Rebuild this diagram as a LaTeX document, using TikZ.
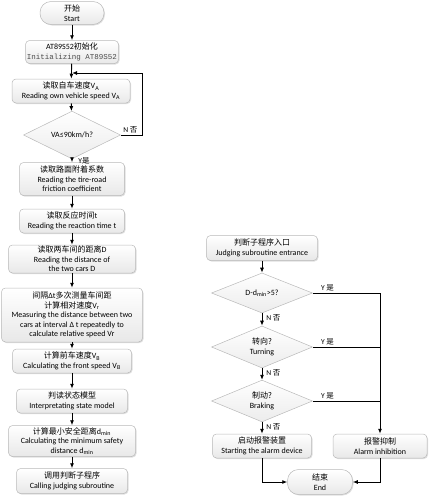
\documentclass[tikz,border=0pt]{standalone}
\usepackage{fontspec}
\setmainfont{Carlito}
\newfontfamily\cjk{Noto Sans CJK SC}
\newfontfamily\monof{Liberation Mono}
\usetikzlibrary{shapes.geometric,shadows,arrows.meta}
\begin{document}
\begin{tikzpicture}[x=1pt,y=-1pt,
  box/.style={draw=gray!55,line width=0.5pt,rounded corners=4pt,top color=white,bottom color=gray!18,
    drop shadow={opacity=0.25,shadow xshift=1pt,shadow yshift=-1pt},align=center,font=\fontsize{8}{9.5}\selectfont,inner sep=1pt},
  term/.style={box,rounded corners=11pt},
  dia/.style={draw=gray!55,line width=0.5pt,diamond,top color=white,bottom color=gray!15,align=center,inner sep=0pt,
    font=\fontsize{8}{9.5}\selectfont},
  arr/.style={-{Latex[length=5pt,width=4pt]},line width=0.9pt},
  ln/.style={line width=0.9pt},
  lab/.style={font=\fontsize{7.5}{8}\selectfont,inner sep=1pt}]
\useasboundingbox (0,0) rectangle (432,498);
% left column
\node[term,minimum width=64pt,minimum height=23pt] (start) at (72,13) {{\cjk 开始}\\Start};
\node[box,minimum width=93pt,minimum height=23pt] (init) at (72,52) {AT89S52{\cjk 初始化}\\{\monof\fontsize{7.5}{9}\selectfont\color{gray!60!black}Initializing AT89S52}};
\node[box,minimum width=118pt,minimum height=24pt] (speed) at (71,91) {{\cjk 读取自车速度}V$_\mathrm{A}$\\Reading own vehicle speed V$_\mathrm{A}$};
\node[dia,minimum width=97pt,minimum height=30pt] (d0) at (72,135) {VA≤90km/h?};
\node[box,minimum width=105pt,minimum height=33pt] (fric) at (72,179) {{\cjk 读取路面附着系数}\\Reading the tire-road\\friction coefficient};
\node[box,minimum width=105pt,minimum height=24pt] (react) at (72,221) {{\cjk 读取反应时间}t\\Reading the reaction time t};
\node[box,minimum width=127pt,minimum height=28pt] (dist) at (72,259) {{\cjk 读取两车间的距离}D\\Reading the distance of\\the two cars D};
\node[box,minimum width=141pt,minimum height=54pt] (meas) at (72,315) {{\cjk 间隔}Δt{\cjk 多次测量车间距}\\{\cjk 计算相对速度}V$_\mathrm{r}$\\Measuring the distance between two\\cars at interval Δ t repeatedly to\\calculate relative speed Vr};
\node[box,minimum width=119pt,minimum height=24pt] (front) at (72,361) {{\cjk 计算前车速度}V$_\mathrm{B}$\\Calculating the front speed V$_\mathrm{B}$};
\node[box,minimum width=111pt,minimum height=24pt] (interp) at (72,401) {{\cjk 判读状态模型}\\Interpretating state model};
\node[box,minimum width=127pt,minimum height=31pt] (minsafe) at (72,441) {{\cjk 计算最小安全距离}d$_\mathrm{min}$\\Calculating the minimum safety\\distance d$_\mathrm{min}$};
\node[box,minimum width=111pt,minimum height=25pt] (call) at (72,481) {{\cjk 调用判断子程序}\\Calling judging subroutine};
\coordinate (loop) at (72,73);
\coordinate (lc) at (142,135);
\draw[arr] (start) -- (init);
\draw[arr] (init) -- (speed);
\draw[arr] (speed) -- (d0);
\draw[arr] (d0) -- node[lab,right,pos=0.45,xshift=5pt]{Y{\cjk 是}} (fric);
\draw[arr] (fric) -- (react);
\draw[arr] (react) -- (dist);
\draw[arr] (dist) -- (meas);
\draw[arr] (meas) -- (front);
\draw[arr] (front) -- (interp);
\draw[arr] (interp) -- (minsafe);
\draw[arr] (minsafe) -- (call);
\draw[arr] (d0.east) -- node[lab,above,pos=0.45]{N {\cjk 否}} (lc) |- (loop);
% right column
\node[box,minimum width=111pt,minimum height=25pt] (entr) at (262,248) {{\cjk 判断子程序入口}\\Judging subroutine entrance};
\node[dia,minimum width=101pt,minimum height=37pt] (d1) at (262,293) {D-d$_\mathrm{min}$>5?};
\node[dia,minimum width=101pt,minimum height=38pt] (d2) at (262,347) {{\cjk 转向?}\\Turning};
\node[dia,minimum width=101pt,minimum height=38pt] (d3) at (262,401) {{\cjk 制动?}\\Braking};
\node[box,minimum width=99pt,minimum height=24pt] (alarm) at (262,446) {{\cjk 启动报警装置}\\Starting the alarm device};
\node[box,minimum width=94pt,minimum height=24pt] (inhib) at (380,446) {{\cjk 报警抑制}\\Alarm inhibition};
\node[term,minimum width=65pt,minimum height=25pt] (end) at (320,482) {{\cjk 结束}\\End};
\coordinate (r1) at (380,293);
\coordinate (r2) at (380,347);
\coordinate (r3) at (380,401);
\draw[arr] (entr) -- (d1);
\draw[arr] (d1) -- node[lab,right,pos=0.4,xshift=3pt]{N {\cjk 否}} (d2);
\draw[arr] (d2) -- node[lab,right,pos=0.4,xshift=3pt]{N {\cjk 否}} (d3);
\draw[arr] (d3) -- node[lab,right,pos=0.4,xshift=3pt]{N {\cjk 否}} (alarm);
\draw[ln] (d1.east) -- node[lab,above,pos=0.22]{Y {\cjk 是}} (r1);
\draw[ln] (d2.east) -- node[lab,above,pos=0.22]{Y {\cjk 是}} (r2);
\draw[ln] (d3.east) -- node[lab,above,pos=0.22]{Y {\cjk 是}} (r3);
\draw[arr] (r1) -- (inhib.north);
\draw[arr] (alarm.south) |- (end.west);
\draw[arr] (inhib.south) |- (end.east);
\end{tikzpicture}
\end{document}
